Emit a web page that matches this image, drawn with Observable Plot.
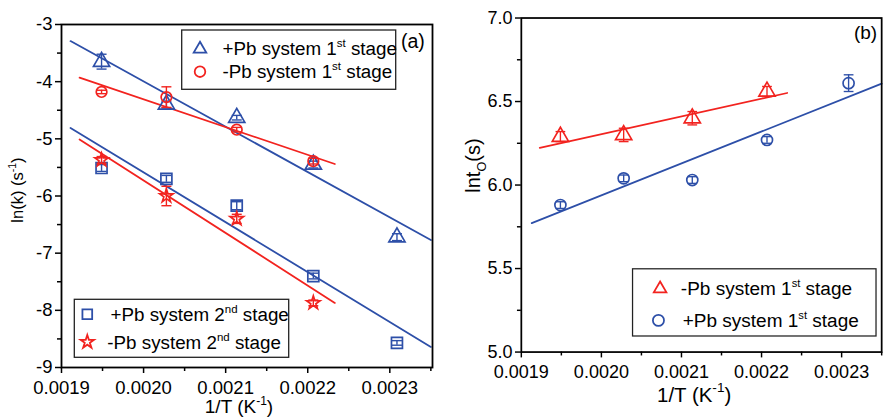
<!DOCTYPE html>
<html><head><meta charset="utf-8">
<script src="https://cdn.jsdelivr.net/npm/d3@7"></script>
<script src="https://cdn.jsdelivr.net/npm/@observablehq/plot@0.6"></script>
<style>
html,body{margin:0;padding:0;background:#fff;}
#wrap{position:relative;width:888px;height:419px;overflow:hidden;font-family:"Liberation Sans",Arial,sans-serif;}
#wrap > div{position:absolute;top:0;}
</style></head><body>
<div id="wrap"><div id="pa" style="left:0"></div><div id="pb" style="left:440px"></div></div>
<script>
// ---------- data ----------
const invT = [0.0019488, 0.0020278, 0.0021135, 0.0022068, 0.0023087]; // 1/T (K^-1)

// panel (a): ln(k)
const lnkPb1     = [-3.65, -4.40, -4.63, -5.45, -6.72];
const lnkPb1Err  = [0.13, 0.06, 0.04, 0.06, 0.06];
const lnkNoPb1   = [-4.18, -4.27, -4.84, -5.39];
const lnkNoPb1Err= [0.03, 0.18, 0.04, 0.05];
const lnkPb2     = [-5.51, -5.70, -6.17, -7.40, -8.57];
const lnkPb2Err  = [0.06, 0.06, 0.07, 0.05, 0.04];
const lnkNoPb2   = [-5.37, -6.00, -6.40, -7.87];
const lnkNoPb2Err= [0.06, 0.17, 0.08, 0.05];
// fitted lines (end points)
const fitAPb1X = [0.001911, 0.00235],  fitAPb1Y = [-3.29, -6.77];
const fitANoPb1X = [0.001922, 0.002233], fitANoPb1Y = [-3.93, -5.44];
const fitAPb2X = [0.001911, 0.00235],  fitAPb2Y = [-4.81, -8.64];
const fitANoPb2X = [0.001922, 0.002233], fitANoPb2Y = [-5.01, -7.87];

// panel (b): ln t0
const lntNoPb1    = [6.29, 6.30, 6.40, 6.56];
const lntNoPb1Err = [0.03, 0.04, 0.04, 0.03];
const lntPb1      = [5.88, 6.04, 6.03, 6.27, 6.61];
const lntPb1Err   = [0.02, 0.02, 0.02, 0.02, 0.05];
const fitBNoPb1X = [0.001923, 0.002232], fitBNoPb1Y = [6.223, 6.551];
const fitBPb1X   = [0.001913, 0.00235],  fitBPb1Y   = [5.772, 6.607];

// ticks
const xTicks = [0.0019, 0.0020, 0.0021, 0.0022, 0.0023];
const xMinor = [0.00195, 0.00205, 0.00215, 0.00225, 0.00235];
const yTicksA = [-9, -8, -7, -6, -5, -4, -3];
const yMinorA = [-8.5, -7.5, -6.5, -5.5, -4.5, -3.5];
const yTicksB = [5.0, 5.5, 6.0, 6.5, 7.0];
const yMinorB = [5.25, 5.75, 6.25, 6.75];

// legend labels
const legendA1 = [["+Pb system 1", "st", " stage"], ["-Pb system 1", "st", " stage"]];
const legendA2 = [["+Pb system 2", "nd", " stage"], ["-Pb system 2", "nd", " stage"]];
const legendB  = [["-Pb system 1", "st", " stage"], ["+Pb system 1", "st", " stage"]];

// ---------- helpers ----------
const BLUE = "#2d4fa8", RED = "#f2231f";
const FONT = "Liberation Sans, Arial, sans-serif";
const cap = {draw(ctx){ ctx.moveTo(-5,0); ctx.lineTo(5,0); }};
const rows = (ys, es) => ys.map((y,i) => ({x: invT[i], y, e: es[i]}));
const fit = (xs, ys) => xs.map((x,i) => ({x, y: ys[i]}));

function series(data, color, symbol, r) {
  return [
    Plot.ruleX(data, {x:"x", y1: d => d.y - d.e, y2: d => d.y + d.e, stroke: color, strokeWidth: 1.4}),
    Plot.dot(data, {x:"x", y: d => d.y + d.e, symbol: cap, r: 3, stroke: color, strokeWidth: 1.4}),
    Plot.dot(data, {x:"x", y: d => d.y - d.e, symbol: cap, r: 3, stroke: color, strokeWidth: 1.4}),
    Plot.dot(data, {x:"x", y:"y", symbol, r, stroke: color, strokeWidth: 1.7, fill: "none"})
  ];
}
function fitLine(data, color) {
  return Plot.line(data, {x:"x", y:"y", stroke: color, strokeWidth: 1.8});
}
function axes(yTicks, yMinor, yFmt) {
  return [
    Plot.axisX({ticks: xTicks, tickSize: 6, tickPadding: 7, tickFormat: d3.format(".4f"), label: null, strokeWidth: 1.5, fontSize: 18.5}),
    Plot.axisX({ticks: xMinor, tickSize: 4, text: null, label: null, strokeWidth: 1.5}),
    Plot.axisY({ticks: yTicks, tickSize: 6, tickPadding: 3, tickFormat: yFmt, label: null, strokeWidth: 1.5, fontSize: 18.5}),
    Plot.axisY({ticks: yMinor, tickSize: 4, text: null, label: null, strokeWidth: 1.5})
  ];
}
// text with one raised / lowered part; parts: [before, {t, size, dy}, after]
function richText(g, x, y, parts, size, opts = {}) {
  const t = g.append("text").attr("x", x).attr("y", y).attr("font-size", size)
    .attr("font-family", FONT).attr("fill", "black")
    .attr("text-anchor", opts.anchor || "start");
  if (opts.rotate) t.attr("transform", `rotate(-90 ${x} ${y})`);
  let back = 0;
  parts.forEach(p => {
    if (typeof p === "string") {
      const s = t.append("tspan").text(p);
      if (back) { s.attr("dy", back); back = 0; }
      return;
    }
    t.append("tspan").attr("font-size", p.size).attr("dy", p.dy).text(p.t);
    back = -p.dy;
  });
  return t;
}
function legend(g, x0, y0, w, h, fs, items) {
  g.append("rect").attr("x", x0).attr("y", y0).attr("width", w).attr("height", h)
    .attr("fill", "white").attr("stroke", "#222").attr("stroke-width", 1.3);
  items.forEach(it => {
    g.append("path").attr("d", d3.symbol(it.type, it.size)())
      .attr("transform", `translate(${it.sx},${it.sy})`)
      .attr("fill", "none").attr("stroke", it.color).attr("stroke-width", 1.8);
    richText(g, it.tx, it.ty, [it.text[0], {t: it.text[1], size: 11.5, dy: -8}, it.text[2]], fs);
  });
}
const area = r => Math.PI * r * r;

// ---------- panel (a) ----------
const plotA = Plot.plot({
  width: 445, height: 419,
  marginLeft: 61, marginRight: 13, marginTop: 24, marginBottom: 52,
  style: {fontFamily: FONT, fontSize: "18px", color: "black", background: "white"},
  x: {domain: [0.0019, 0.002352]},
  y: {domain: [-9, -3]},
  marks: [
    ...axes(yTicksA, yMinorA, d => String(d)),
    fitLine(fit(fitAPb1X, fitAPb1Y), BLUE),
    fitLine(fit(fitANoPb1X, fitANoPb1Y), RED),
    fitLine(fit(fitAPb2X, fitAPb2Y), BLUE),
    fitLine(fit(fitANoPb2X, fitANoPb2Y), RED),
    ...series(rows(lnkPb1, lnkPb1Err), BLUE, "triangle", 6),
    ...series(rows(lnkNoPb1, lnkNoPb1Err), RED, "circle", 5.3),
    ...series(rows(lnkPb2, lnkPb2Err), BLUE, "square", 6.2),
    ...series(rows(lnkNoPb2, lnkNoPb2Err), RED, "star", 4.2),
    Plot.frame({stroke: "black", strokeWidth: 1.8})
  ]
});
document.getElementById("pa").append(plotA);
{
  const g = d3.select(plotA).append("g");
  legend(g, 181.7, 30, 214, 59.3, 18.8, [
    {type: d3.symbolTriangle2, size: area(6), sx: 200, sy: 49, color: BLUE, tx: 222.5, ty: 55, text: legendA1[0]},
    {type: d3.symbolCircle, size: area(5.3), sx: 200, sy: 71.7, color: RED, tx: 222.5, ty: 78, text: legendA1[1]}
  ]);
  legend(g, 74.3, 299.3, 214.4, 58, 18.8, [
    {type: d3.symbolSquare2, size: area(6.2), sx: 87.3, sy: 314.3, color: BLUE, tx: 110.5, ty: 321, text: legendA2[0]},
    {type: d3.symbolStar, size: area(4.2), sx: 87.3, sy: 342, color: RED, tx: 107.3, ty: 349, text: legendA2[1]}
  ]);
  richText(g, 401, 48, ["(a)"], 19.5);
  richText(g, 239, 413, ["1/T (K", {t: "-1", size: 12, dy: -8}, ")"], 19, {anchor: "middle"});
  richText(g, 23, 190, ["ln(k) (s", {t: "-1", size: 10.5, dy: -7}, ")"], 16.5, {rotate: true, anchor: "middle"});
}

// ---------- panel (b) ----------
const plotB = Plot.plot({
  width: 460, height: 419,
  marginLeft: 83, marginRight: 7, marginTop: 18, marginBottom: 58,
  style: {fontFamily: FONT, fontSize: "18px", color: "black", background: "white"},
  x: {domain: [0.0019, 0.00235]},
  y: {domain: [5, 7]},
  marks: [
    ...axes(yTicksB, yMinorB, d3.format(".1f")),
    fitLine(fit(fitBNoPb1X, fitBNoPb1Y), RED),
    fitLine(fit(fitBPb1X, fitBPb1Y), BLUE),
    ...series(rows(lntNoPb1, lntNoPb1Err), RED, "triangle", 6.2),
    ...series(rows(lntPb1, lntPb1Err), BLUE, "circle", 5.7),
    Plot.frame({stroke: "black", strokeWidth: 1.8})
  ]
});
document.getElementById("pb").append(plotB);
{
  const g = d3.select(plotB).append("g");
  legend(g, 197.7, 276, 250, 69, 19.5, [
    {type: d3.symbolTriangle2, size: area(6.2), sx: 226, sy: 296.5, color: RED, tx: 247.3, ty: 303, text: legendB[0]},
    {type: d3.symbolCircle, size: area(5.7), sx: 224.3, sy: 329, color: BLUE, tx: 249.3, ty: 336, text: legendB[1]}
  ]);
  richText(g, 425, 40, ["(b)"], 19.5);
  richText(g, 261, 413, ["1/T (K", {t: "-1", size: 14, dy: -10}, ")"], 21, {anchor: "middle"});
  richText(g, 41, 170, ["lnt", {t: "O", size: 13, dy: 6}, "(s)"], 20.5, {rotate: true, anchor: "middle"});
}
</script>
</body></html>
